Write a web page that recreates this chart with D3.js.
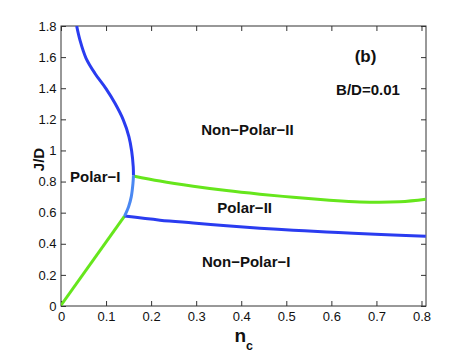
<!DOCTYPE html>
<html><head><meta charset="utf-8">
<script src="https://cdn.jsdelivr.net/npm/d3@7"></script>
<style>
body{margin:0;background:#fff;}
svg text{font-family:"Liberation Sans",Arial,Helvetica,sans-serif;}
</style></head>
<body><svg id="c" width="471" height="354"></svg>
<script>
// Data (nc, J/D)
const upperBlue = [[0.0348,1.8],[0.0421,1.709],[0.0554,1.594],[0.0754,1.495],[0.0998,1.397],[0.1198,1.303],[0.1382,1.197],[0.1508,1.088],[0.1568,0.996],[0.1603,0.895],[0.1608,0.840]];
const midBlue = [[0.1608,0.840],[0.1597,0.788],[0.1560,0.703],[0.1500,0.638],[0.1410,0.578]];
const lowerGreen = [[0,0.005],[0.1410,0.578]];
const upperGreen = [[0.1608,0.836],[0.2196,0.803],[0.2934,0.770],[0.3674,0.742],[0.4413,0.719],[0.5152,0.699],[0.5892,0.682],[0.6631,0.669],[0.7518,0.670],[0.8095,0.686]];
const lowerBlue = [[0.1410,0.578],[0.2196,0.552],[0.2934,0.534],[0.3674,0.516],[0.4413,0.500],[0.5152,0.487],[0.5892,0.476],[0.6480,0.467],[0.7370,0.456],[0.8095,0.448]];
const xTicks = [0,0.1,0.2,0.3,0.4,0.5,0.6,0.7,0.8];
const yTicks = [0,0.2,0.4,0.6,0.8,1,1.2,1.4,1.6,1.8];
const regionLabels = [
  {text:"Polar\u2212I", nc:0.020, j:0.80},
  {text:"Non\u2212Polar\u2212II", nc:0.311, j:1.10},
  {text:"Polar\u2212II", nc:0.347, j:0.60},
  {text:"Non\u2212Polar\u2212I", nc:0.313, j:0.25}
];

const svg = d3.select("#c");
const m = {l:61, t:26, r:45, b:48};
const W = 471 - m.l - m.r, H = 354 - m.t - m.b;
const x = d3.scaleLinear().domain([0,0.81]).range([0,W]);
const y = d3.scaleLinear().domain([0,1.8]).range([H,0]);
const g = svg.append("g").attr("transform",`translate(${m.l},${m.t})`);

const fmt = d => d===0?"0":(d===1?"1":String(d));
const styleAxis = (sel, labels) => {
  sel.select(".domain").remove();
  sel.selectAll(".tick line").attr("stroke","#333").attr("stroke-width",1);
  sel.selectAll(".tick text").attr("fill","#111").style("font-size","13px");
  if(!labels) sel.selectAll(".tick text").remove();
};
g.append("g").attr("transform",`translate(0,${H})`)
  .call(d3.axisBottom(x).tickValues(xTicks).tickFormat(fmt).tickSizeInner(-5).tickSizeOuter(0).tickPadding(6))
  .call(s=>styleAxis(s,true));
g.append("g").call(d3.axisTop(x).tickValues(xTicks).tickSizeInner(-5).tickSizeOuter(0)).call(s=>styleAxis(s,false));
g.append("g")
  .call(d3.axisLeft(y).tickValues(yTicks).tickFormat(fmt).tickSizeInner(-5).tickSizeOuter(0).tickPadding(4.5))
  .call(s=>styleAxis(s,true));
g.append("g").attr("transform",`translate(${W},0)`)
  .call(d3.axisRight(y).tickValues(yTicks).tickSizeInner(-5).tickSizeOuter(0)).call(s=>styleAxis(s,false));
g.append("rect").attr("x",0).attr("y",0).attr("width",W).attr("height",H)
  .attr("fill","none").attr("stroke","#333").attr("stroke-width",1);

const line = d3.line().x(d=>x(d[0])).y(d=>y(d[1])).curve(d3.curveCatmullRom.alpha(0.5));
g.append("clipPath").attr("id","cp").append("rect").attr("width",W).attr("height",H);
const lg = g.append("g").attr("clip-path","url(#cp)");
const draw = (data,color)=>lg.append("path").datum(data).attr("d",line)
  .attr("fill","none").attr("stroke",color).attr("stroke-width",3).attr("stroke-linecap","butt");
draw(lowerGreen,"#66e61c");
draw(upperGreen,"#66e61c");
draw(lowerBlue,"#2a3cf0");
draw(midBlue,"#4a88f2");
draw(upperBlue,"#2a3cf0");

regionLabels.forEach(d=>{
  g.append("text").attr("x",x(d.nc)).attr("y",y(d.j)).text(d.text)
   .style("font-size","15px").style("font-weight","bold").attr("fill","#111");
});
svg.append("text").attr("x",365.5).attr("y",62).attr("text-anchor","middle").text("(b)")
  .style("font-size","17px").style("font-weight","bold").attr("fill","#111");
svg.append("text").attr("x",368).attr("y",94.5).attr("text-anchor","middle").text("B/D=0.01")
  .style("font-size","15px").style("font-weight","bold").attr("fill","#111");
// axis labels
const xl = svg.append("text").attr("x",234.5).attr("y",341.5).style("font-weight","bold").attr("fill","#111");
xl.append("tspan").text("n").style("font-size","19px");
xl.append("tspan").text("c").attr("dy",8).style("font-size","12.5px");
svg.append("text").attr("transform","translate(43.5,159.5) rotate(-90)").attr("text-anchor","middle")
  .text("J/D").style("font-size","15px").style("font-weight","bold").attr("fill","#111");
</script></body></html>
